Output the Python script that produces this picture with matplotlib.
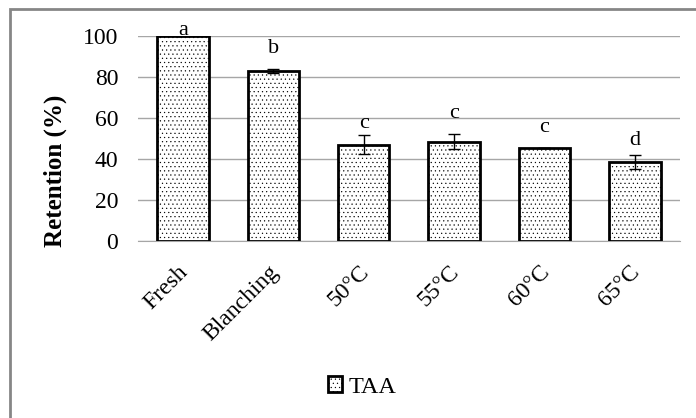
import matplotlib
matplotlib.use('Agg')
import matplotlib.pyplot as plt
from matplotlib.patches import Rectangle

# data
treatments = ['Fresh', 'Blanching', '50°C', '55°C', '60°C', '65°C']
retention = [100, 83, 47, 48.5, 45.5, 38.5]
errors = [0, 1, 4.8, 3.5, 0, 3.6]
letters = ['a', 'b', 'c', 'c', 'c', 'd']
letter_y = [100.5, 91.7, 55.1, 60, 53.2, 46.8]   # letters were placed by hand

plt.rcParams['font.family'] = ['Liberation Serif', 'DejaVu Serif']
plt.rcParams['hatch.linewidth'] = 0.35
plt.rcParams['hatch.color'] = '#444444'

fig = plt.figure(figsize=(6.96, 4.18), dpi=100)
ax = fig.add_axes([0.198, 0.4234, 0.779, 0.4905])

x = range(len(treatments))
bars = ax.bar(x, retention, width=0.57, color='white', edgecolor='black',
              linewidth=2, hatch='....', label='TAA', zorder=3)
ax.errorbar(x, retention, yerr=errors, fmt='none', ecolor='black',
            elinewidth=1, capsize=4, capthick=1, zorder=4)

# significance letters
for xi, ly, let in zip(x, letter_y, letters):
    ax.text(xi, ly, let, ha='center', va='baseline', fontsize=16,
            clip_on=False)

ax.set_xlim(-0.5, len(treatments) - 0.5)
ax.set_ylim(0, 100)
ax.set_yticks(range(0, 101, 20))
ax.yaxis.grid(True, color='#a6a6a6', linewidth=1)
ax.set_axisbelow(True)
for side in ['left', 'right', 'top']:
    ax.spines[side].set_visible(False)
ax.spines['bottom'].set_color('#a6a6a6')
ax.tick_params(axis='y', length=0, labelsize=17, pad=14)
ax.set_xticks([])

# rotated category labels under each bar
trans = ax.get_xaxis_transform()
for xi, name in zip(x, treatments):
    ax.text(xi - 0.06, -0.1, name, transform=trans,
            rotation=45, ha='right', va='top', rotation_mode='anchor',
            fontsize=17)

ax.set_ylabel('Retention (%)', fontsize=18, fontweight='bold')
ax.yaxis.set_label_coords(-0.131, 0.341)

leg = fig.legend(handles=[bars], labels=['TAA'], loc='center',
                 bbox_to_anchor=(0.52, 0.074), frameon=False, fontsize=17.5,
                 handlelength=0.6, handleheight=0.6, handletextpad=0.25)

# outer chart frame
fig.patches.append(Rectangle((10 / 696, -0.1), 1.2, 1.1 - 9 / 418,
                             transform=fig.transFigure, fill=False,
                             edgecolor='#868686', linewidth=2))

fig.savefig('out.png', dpi=100)
